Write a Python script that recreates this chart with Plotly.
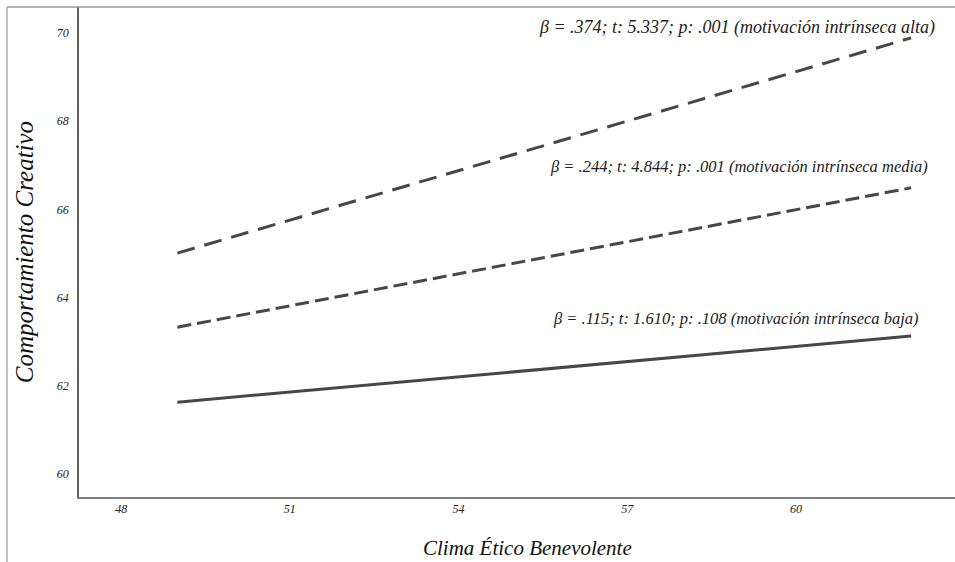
import plotly.graph_objects as go

# Data
clima = [49.0, 62.05]
mot_alta = [65.01, 69.89]
mot_media = [63.33, 66.49]
mot_baja = [61.63, 63.13]

x_ticks = [48, 51, 54, 57, 60]
y_ticks = [60, 62, 64, 66, 68, 70]

lbl_alta = "β = .374; t: 5.337; p: .001 (motivación intrínseca alta)"
lbl_media = "β = .244; t: 4.844; p: .001 (motivación intrínseca media)"
lbl_baja = "β = .115; t: 1.610; p: .108 (motivación intrínseca baja)"
x_title = "Clima Ético Benevolente"
y_title = "Comportamiento Creativo"

line_col = "#474747"
serif = "Liberation Serif, Times New Roman, serif"

fig = go.Figure()
fig.add_trace(go.Scatter(x=clima, y=mot_alta, mode="lines",
                         line=dict(color=line_col, width=3, dash="18px,10px"),
                         showlegend=False, hoverinfo="skip"))
fig.add_trace(go.Scatter(x=clima, y=mot_media, mode="lines",
                         line=dict(color=line_col, width=3, dash="14px,6px"),
                         showlegend=False, hoverinfo="skip"))
fig.add_trace(go.Scatter(x=clima, y=mot_baja, mode="lines",
                         line=dict(color=line_col, width=3),
                         showlegend=False, hoverinfo="skip"))

def afont(size):
    return dict(family=serif, size=size, color="#222222", style="italic")

annotations = [
    dict(x=1, y=mot_alta[1], xref="paper", yref="y", text=lbl_alta, showarrow=False,
         xanchor="right", yanchor="middle", xshift=-18, yshift=10, font=afont(18)),
    dict(x=1, y=mot_media[1], xref="paper", yref="y", text=lbl_media, showarrow=False,
         xanchor="right", yanchor="middle", xshift=-25, yshift=21, font=afont(16.5)),
    dict(x=1, y=mot_baja[1], xref="paper", yref="y", text=lbl_baja, showarrow=False,
         xanchor="right", yanchor="middle", xshift=-34, yshift=18, font=afont(16.5)),
    dict(x=0.5, y=0, xref="paper", yref="paper", text=x_title, showarrow=False,
         xanchor="center", yanchor="middle", xshift=10, yshift=-51,
         font=dict(family=serif, size=21, color="#111111", style="italic")),
]

W, H = 955, 562
L, R, T, B = 79, 0, 7, 65
pw, ph = W - L - R, H - T - B

shapes = [
    # outer top line
    dict(type="line", xref="paper", yref="paper",
         x0=(7 - L) / pw, x1=1.0, y0=1, y1=1,
         line=dict(color="#9a9a9a", width=1.5)),
    # outer left line
    dict(type="line", xref="paper", yref="paper",
         x0=(7 - L) / pw, x1=(7 - L) / pw, y0=1, y1=-0.2,
         line=dict(color="#b0b0b0", width=1.5)),
]

fig.update_layout(
    width=W, height=H,
    margin=dict(l=L, r=R, t=T, b=B, autoexpand=False),
    paper_bgcolor="white", plot_bgcolor="white",
    annotations=annotations, shapes=shapes,
    xaxis=dict(range=[47.25, 62.83], tickvals=x_ticks, ticktext=[str(v) for v in x_ticks],
               showgrid=False, zeroline=False, showline=True, linecolor="#808080",
               linewidth=2, ticks="", color="#222222",
               tickfont=dict(family=serif, size=12, color="#222222", style="italic")),
    yaxis=dict(range=[59.48, 70.59], tickvals=y_ticks, ticktext=[str(v) for v in y_ticks],
               showgrid=False, zeroline=False, showline=True, linecolor="#606060",
               linewidth=1.5, ticks="", ticklabelstandoff=6, color="#222222",
               tickfont=dict(family=serif, size=12, color="#222222", style="italic"),
               title=dict(text=y_title, standoff=16,
                          font=dict(family=serif, size=25, color="#111111", style="italic"))),
)

fig.write_html("out.html", config={"displayModeBar": False},
               post_script="document.body.style.margin='0';")
